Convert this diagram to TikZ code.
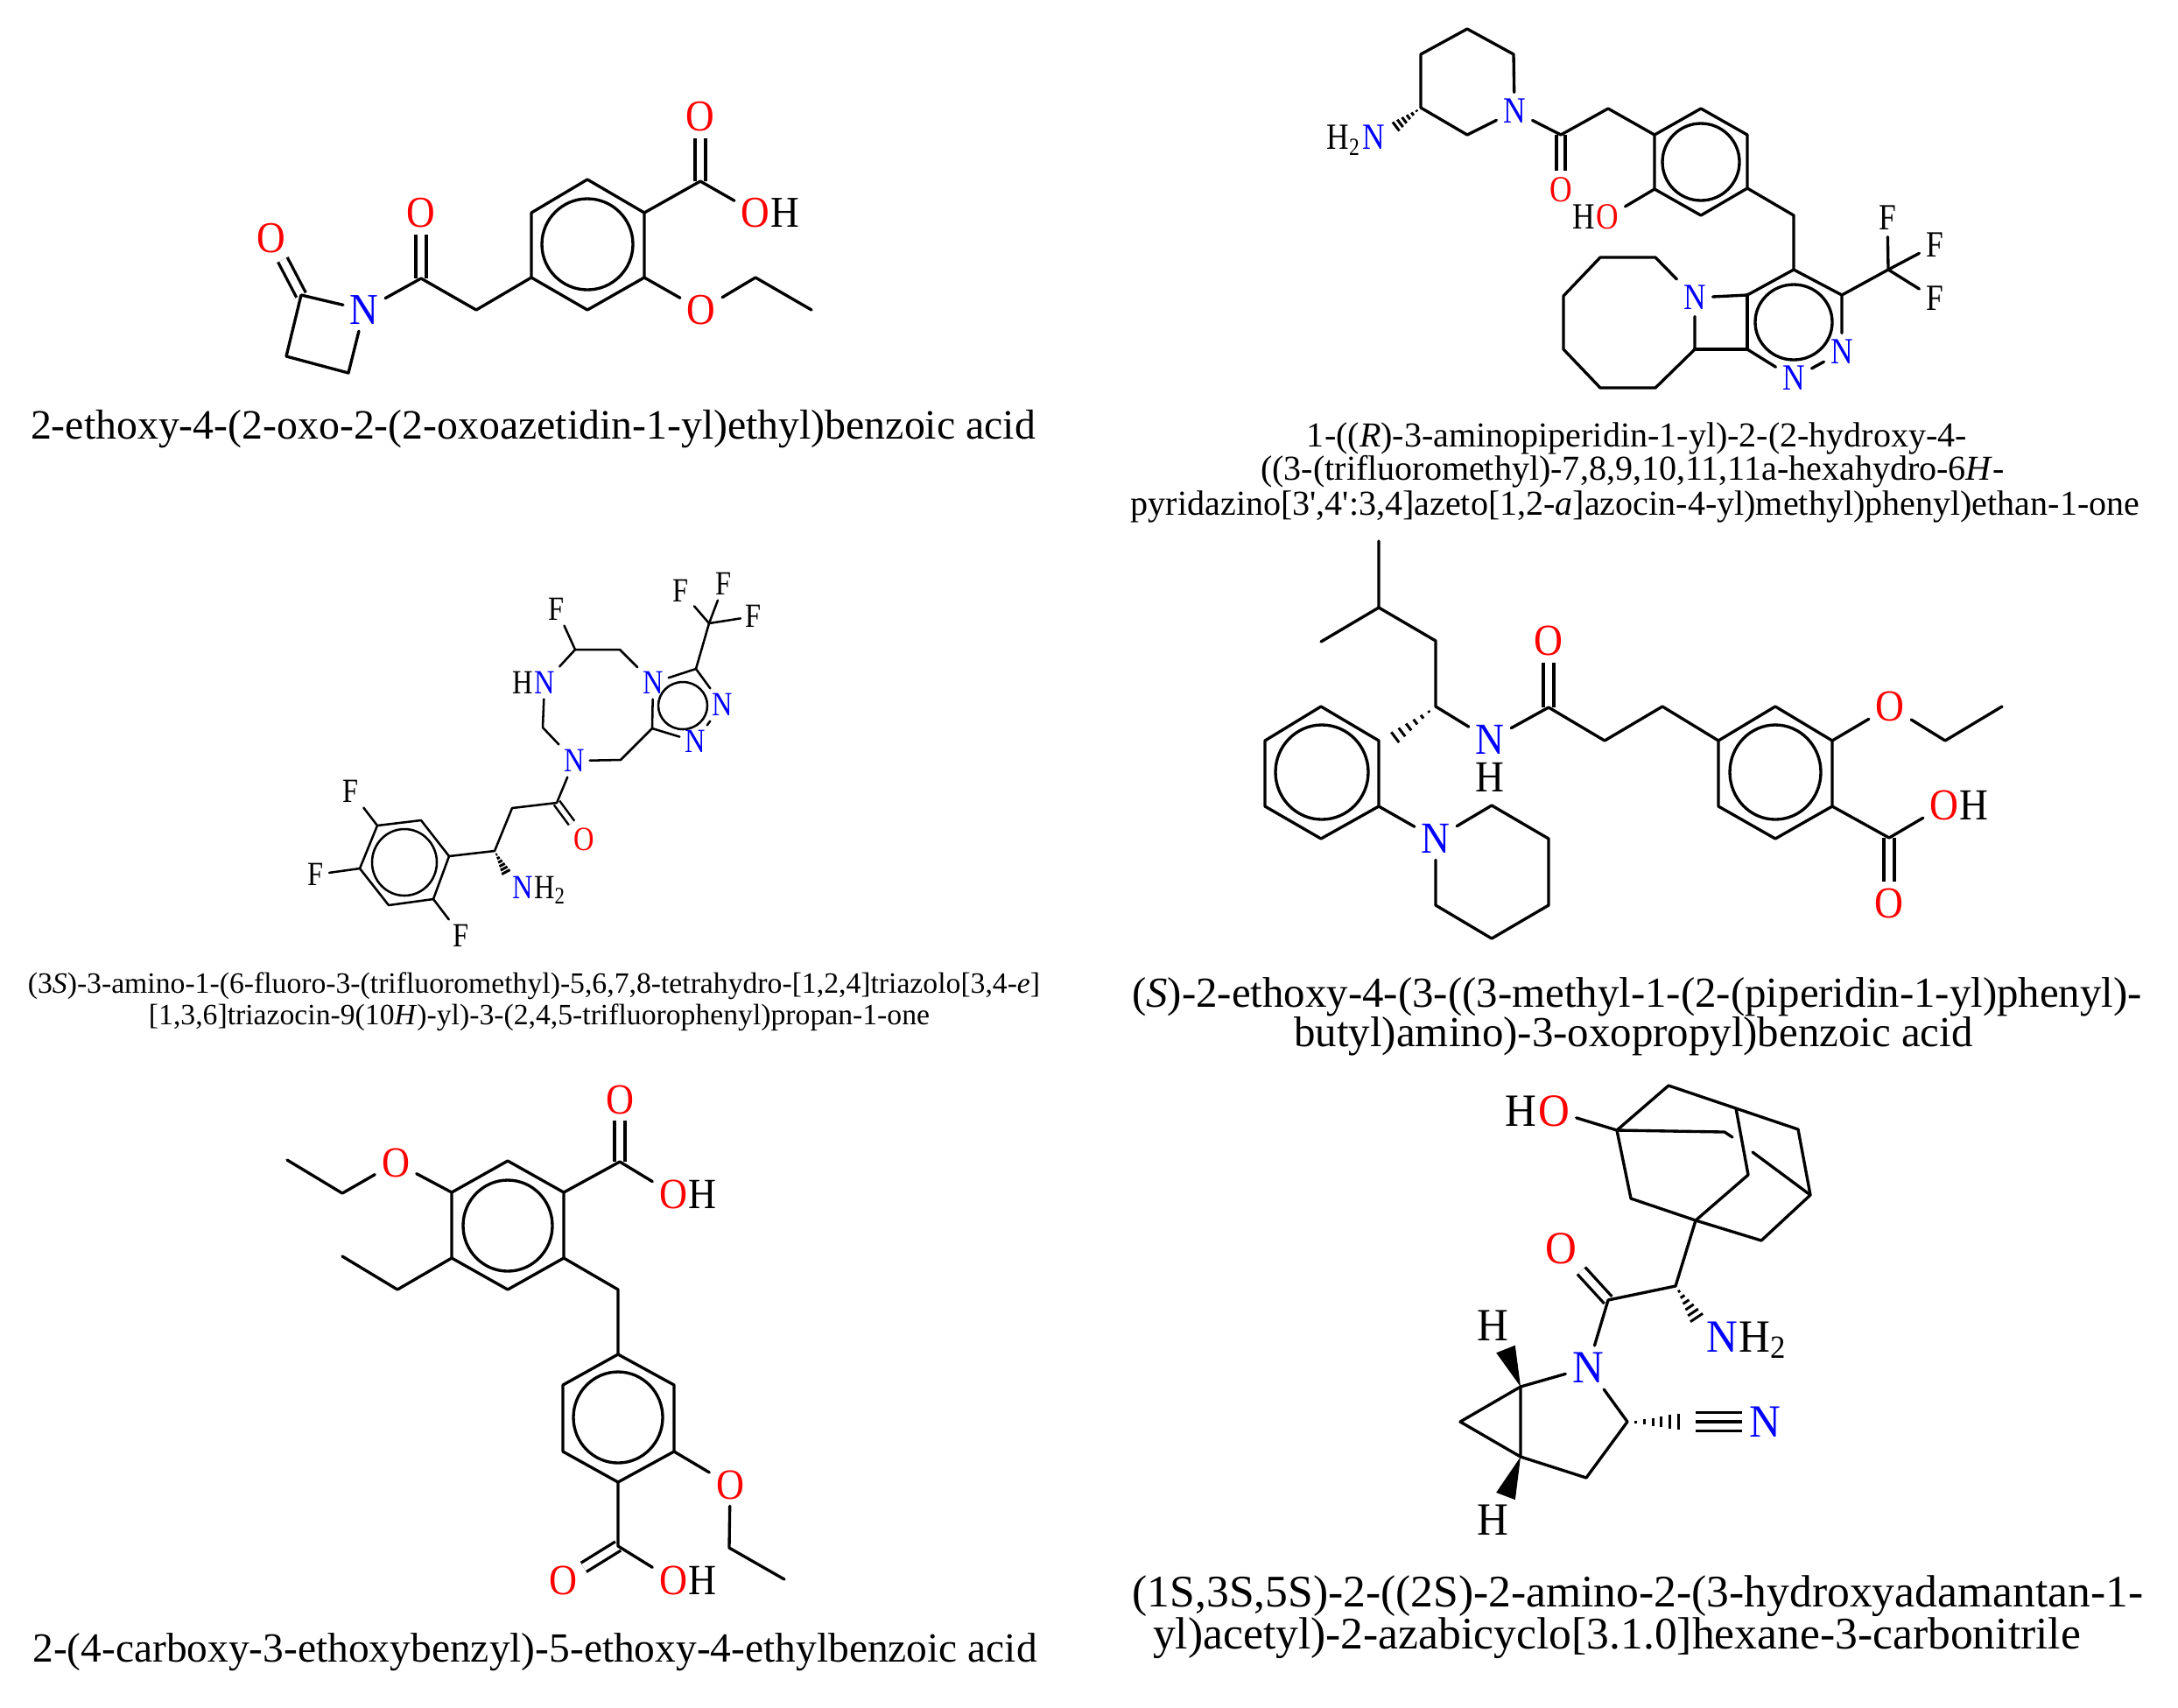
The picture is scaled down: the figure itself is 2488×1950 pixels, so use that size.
\documentclass[tikz,border=0pt]{standalone}
\usepackage{fontspec}
\usetikzlibrary{calc}
\setmainfont{Liberation Serif}
\newfontfamily\atomA[FakeStretch=0.90]{Liberation Serif}
\newfontfamily\atomB[FakeStretch=0.84]{Liberation Serif}
\newfontfamily\atomF[FakeStretch=0.94]{Liberation Serif}
\definecolor{oxred}{RGB}{255,0,0}
\definecolor{nitblue}{RGB}{0,0,255}
\tikzset{
  bond/.style={line width=0.95pt,line join=round,line cap=round},
  dbl/.style={line width=0.95pt,line cap=butt,double,double distance=2.4pt},
  ox/.style={text=oxred},
  nit/.style={text=nitblue},
  capline/.style={inner sep=0pt},
}
\newcommand{\hashbond}[3]{%
  \foreach \i [evaluate=\i as \t using \i/7, evaluate=\i as \w using \i*#3] in {1,...,7}
    \draw[line width=0.85pt] ($(#1)!\t!(#2)!\w pt!90:(#2)$) -- ($(#1)!\t!(#2)!\w pt!-90:(#2)$);}
\newcommand{\wedgebond}[3]{%
  \fill ($(#2)!#3!90:(#1)$) -- (#1) -- ($(#2)!#3!-90:(#1)$) -- cycle;}
\begin{document}
\begin{tikzpicture}[x=0.01cm,y=-0.01cm]
  \useasboundingbox (0,0) rectangle (2488,1950);

  \begin{scope}[every node/.style={inner sep=2pt,font=\atomA\fontsize{14.3}{17}\selectfont}]
    \coordinate (A1) at (671,205);
    \coordinate (A2) at (736,243);
    \coordinate (A3) at (736,317);
    \coordinate (A4) at (671,354);
    \coordinate (A5) at (607,317);
    \coordinate (A6) at (607,243);
    \coordinate (AR) at (671,279);
    \coordinate (A7) at (800,207);
    \coordinate (A11) at (863,317);
    \coordinate (A12) at (927,354);
    \coordinate (A13) at (544,354);
    \coordinate (A14) at (481,318);
    \coordinate (A17) at (344,337);
    \coordinate (A19) at (327,407);
    \coordinate (A20) at (398,426);
    \node[ox] (A8) at (800,133) {O};
    \node[ox] (A9) at (863,243) {O};
    \node[anchor=base west] (A9h) at ([xshift=-4pt]A9.base east) {H};
    \node[ox] (A10) at (801,354) {O};
    \node[ox] (A15) at (481,243) {O};
    \node[nit] (A16) at (416,354) {N};
    \node[ox] (A18) at (310,272) {O};

    \draw[dbl] (A7) -- (A8);
    \draw[dbl] (A14) -- (A15);
    \draw[dbl] (A17) -- (A18);
    \draw[bond] (A1) -- (A2) -- (A3) -- (A4) -- (A5) -- (A6) -- cycle;
    \draw[bond] (AR) ellipse [x radius=52,y radius=52];
    \draw[bond] (A2) -- (A7) -- (A9);
    \draw[bond] (A3) -- (A10) -- (A11) -- (A12);
    \draw[bond] (A5) -- (A13) -- (A14) -- (A16) -- (A17) -- (A19) -- (A20) -- (A16);
  \end{scope}
  \node[capline,font=\fontsize{13.59}{16}\selectfont] (A21) at (609,490) {2-ethoxy-4-(2-oxo-2-(2-oxoazetidin-1-yl)ethyl)benzoic acid};

  \begin{scope}[every node/.style={inner sep=2pt,font=\atomB\fontsize{12}{14}\selectfont}]
    \coordinate (B1) at (1676,33);
    \coordinate (B2) at (1729,62);
    \coordinate (B4) at (1676,154);
    \coordinate (B5) at (1623,123);
    \coordinate (B6) at (1623,62);
    \coordinate (B8) at (1590,148);
    \coordinate (B9) at (1783,154);
    \coordinate (B11) at (1837,124);
    \coordinate (B12) at (1890,154);
    \coordinate (B13) at (1943,124);
    \coordinate (B14) at (1996,154);
    \coordinate (B15) at (1996,215);
    \coordinate (B16) at (1943,246);
    \coordinate (B17) at (1890,216);
    \coordinate (BR) at (1943,185);
    \coordinate (B19) at (2049,246);
    \coordinate (B20) at (2049,308);
    \coordinate (B21) at (2104,337);
    \coordinate (B24) at (1996,399);
    \coordinate (B25) at (1996,337);
    \coordinate (BS) at (2049,368);
    \coordinate (B26) at (2157,308);
    \coordinate (B31) at (1936,399);
    \coordinate (B32) at (1891,294);
    \coordinate (B33) at (1828,294);
    \coordinate (B34) at (1786,338);
    \coordinate (B35) at (1786,399);
    \coordinate (B36) at (1828,443);
    \coordinate (B37) at (1891,443);
    \node[nit] (B3) at (1730,127) {N};
    \node[nit] (B7) at (1569,157) {N};
    \node[anchor=base east] (B7h) at ([xshift=4pt]B7.base west) {H\textsubscript{2}};
    \node[ox] (B10) at (1783,217) {O};
    \node[ox] (B18) at (1836,248) {O};
    \node[anchor=base east] (B18h) at ([xshift=4pt]B18.base west) {H};
    \node[nit] (B22) at (2104,402) {N};
    \node[nit] (B23) at (2049,432) {N};
    \node (B27) at (2156,249) {F};
    \node (B28) at (2210,280) {F};
    \node (B29) at (2210,341) {F};
    \node[nit] (B30) at (1936,340) {N};

    \draw[dbl,double distance=1.9pt] (B9) -- (B10);
    \draw[bond] (B1) -- (B2) -- (B3) -- (B4) -- (B5) -- (B6) -- (B1);
    \hashbond{B5}{B8}{0.3}
    \draw[bond] (B3) -- (B9) -- (B11) -- (B12);
    \draw[bond] (B12) -- (B13) -- (B14) -- (B15) -- (B16) -- (B17) -- cycle;
    \draw[bond] (BR) ellipse [x radius=44,y radius=44];
    \draw[bond] (B17) -- (B18);
    \draw[bond] (B15) -- (B19) -- (B20);
    \draw[bond] (B20) -- (B21) -- (B22) -- (B23) -- (B24);
    \draw[bond,line width=1.3pt] (B24) -- (B25);
    \draw[bond] (B25) -- (B20);
    \draw[bond] (BS) ellipse [x radius=44,y radius=43];
    \draw[bond] (B21) -- (B26) -- (B27);
    \draw[bond] (B26) -- (B28);
    \draw[bond] (B26) -- (B29);
    \draw[bond] (B25) -- (B30) -- (B31);
    \draw[bond,line width=1.3pt] (B31) -- (B24);
    \draw[bond] (B30) -- (B32) -- (B33) -- (B34) -- (B35) -- (B36) -- (B37) -- (B31);
  \end{scope}
  \node[capline,font=\fontsize{11.39}{13}\selectfont] (B38) at (1870,501) {1-((\textit{R})-3-aminopiperidin-1-yl)-2-(2-hydroxy-4-};
  \node[capline,font=\fontsize{11.39}{13}\selectfont] (B39) at (1865,539) {((3-(trifluoromethyl)-7,8,9,10,11,11a-hexahydro-6\textit{H}-};
  \node[capline,font=\fontsize{11.39}{13}\selectfont] (B40) at (1868,579) {pyridazino[3\textquotesingle,4\textquotesingle:3,4]azeto[1,2-\textit{a}]azocin-4-yl)methyl)phenyl)ethan-1-one};

  \begin{scope}[every node/.style={inner sep=1.5pt,font=\atomB\fontsize{11}{13}\selectfont},
      bond/.style={line width=0.72pt,line join=round,line cap=round}]
    \coordinate (C1) at (810,712);
    \coordinate (C5) at (795,764);
    \coordinate (C9) at (745,832);
    \coordinate (CR) at (780,806);
    \coordinate (C10) at (708,742);
    \coordinate (C11) at (657,742);
    \coordinate (C14) at (620,831);
    \coordinate (C16) at (709,868);
    \coordinate (C17) at (636,917);
    \coordinate (C19) at (585,923);
    \coordinate (C20) at (565,972);
    \coordinate (C22) at (580,1000);
    \coordinate (C23) at (513,978);
    \coordinate (C24) at (481,937);
    \coordinate (C25) at (431,943);
    \coordinate (C26) at (411,992);
    \coordinate (C27) at (444,1034);
    \coordinate (C28) at (495,1027);
    \coordinate (CS) at (462,985);
    \node (C2) at (778,675) {F};
    \node (C3) at (827,667) {F};
    \node (C4) at (861,704) {F};
    \node[nit] (C6) at (746,780) {N};
    \node[nit] (C7) at (825,805) {N};
    \node[nit] (C8) at (794,847) {N};
    \node (C12) at (636,696) {F};
    \node[nit] (C13) at (622,780) {N};
    \node[anchor=base east] (C13h) at ([xshift=3pt]C13.base west) {H};
    \node[nit] (C15) at (656,869) {N};
    \node[ox] (C18) at (667,959) {O};
    \node[nit] (C21) at (597,1014) {N};
    \node[anchor=base west] (C21h) at ([xshift=-3pt]C21.base east) {H\textsubscript{2}};
    \node (C29) at (401,904) {F};
    \node (C30) at (361,999) {F};
    \node (C31) at (527,1069) {F};

    \draw[dbl,line width=0.72pt,double distance=1.5pt] (C17) -- (C18);
    \draw[bond] (C1) -- (C2);
    \draw[bond] (C1) -- (C3);
    \draw[bond] (C1) -- (C4);
    \draw[bond] (C1) -- (C5) -- (C6) -- (C9) -- (C8) -- (C7) -- (C5);
    \draw[bond] (CR) ellipse [x radius=28,y radius=27];
    \draw[bond] (C6) -- (C10) -- (C11) -- (C12);
    \draw[bond] (C11) -- (C13) -- (C14) -- (C15) -- (C16) -- (C9);
    \draw[bond] (C15) -- (C17) -- (C19) -- (C20) -- (C23);
    \hashbond{C20}{C22}{0.25}
    \draw[bond] (C23) -- (C24) -- (C25) -- (C26) -- (C27) -- (C28) -- cycle;
    \draw[bond] (CS) ellipse [x radius=37,y radius=38];
    \draw[bond] (C25) -- (C29);
    \draw[bond] (C26) -- (C30);
    \draw[bond] (C28) -- (C31);
  \end{scope}
  \node[capline,font=\fontsize{9.58}{12}\selectfont] (C32) at (610,1126) {(3\textit{S})-3-amino-1-(6-fluoro-3-(trifluoromethyl)-5,6,7,8-tetrahydro-[1,2,4]triazolo[3,4-\textit{e}]};
  \node[capline,font=\fontsize{9.58}{12}\selectfont] (C33) at (616,1162) {[1,3,6]triazocin-9(10\textit{H})-yl)-3-(2,4,5-trifluorophenyl)propan-1-one};

  \begin{scope}[every node/.style={inner sep=2pt,font=\atomA\fontsize{14.4}{17}\selectfont}]
    \coordinate (D1) at (1575,618);
    \coordinate (D2) at (1575,694);
    \coordinate (D3) at (1509,733);
    \coordinate (D4) at (1640,732);
    \coordinate (D5) at (1640,807);
    \coordinate (D7) at (1769,808);
    \coordinate (D9) at (1833,846);
    \coordinate (D10) at (1899,807);
    \coordinate (D11) at (1963,846);
    \coordinate (D12) at (2028,807);
    \coordinate (D13) at (2093,846);
    \coordinate (D14) at (2093,921);
    \coordinate (D15) at (2028,958);
    \coordinate (D16) at (1963,921);
    \coordinate (DR) at (2028,882);
    \coordinate (D18) at (2222,846);
    \coordinate (D19) at (2287,807);
    \coordinate (D20) at (2158,957);
    \coordinate (D23) at (1509,807);
    \coordinate (D24) at (1575,846);
    \coordinate (D25) at (1575,921);
    \coordinate (D26) at (1509,958);
    \coordinate (D27) at (1445,921);
    \coordinate (D28) at (1445,846);
    \coordinate (DS) at (1510,882);
    \coordinate (D30) at (1704,920);
    \coordinate (D31) at (1769,958);
    \coordinate (D32) at (1769,1034);
    \coordinate (D33) at (1704,1072);
    \coordinate (D34) at (1640,1034);
    \coordinate (D35) at (1586,848);
    \node[nit] (D6) at (1702,845) {N};
    \node[inner sep=0pt] (D6h) at (1702,888) {H};
    \node[ox] (D8) at (1769,732) {O};
    \node[ox] (D17) at (2159,807) {O};
    \node[ox] (D21) at (2221,920) {O};
    \node[anchor=base west] (D21h) at ([xshift=-4pt]D21.base east) {H};
    \node[ox] (D22) at (2158,1032) {O};
    \node[nit] (D29) at (1640,958) {N};

    \draw[dbl] (D7) -- (D8);
    \draw[dbl] (D20) -- (D22);
    \draw[bond] (D1) -- (D2) -- (D3);
    \draw[bond] (D2) -- (D4) -- (D5) -- (D6) -- (D7) -- (D9) -- (D10) -- (D11);
    \draw[bond] (D11) -- (D12) -- (D13) -- (D14) -- (D15) -- (D16) -- cycle;
    \draw[bond] (DR) ellipse [x radius=52,y radius=54];
    \draw[bond] (D13) -- (D17) -- (D18) -- (D19);
    \draw[bond] (D14) -- (D20) -- (D21);
    \draw[bond] (D23) -- (D24) -- (D25) -- (D26) -- (D27) -- (D28) -- cycle;
    \draw[bond] (DS) ellipse [x radius=53,y radius=54];
    \hashbond{D5}{D35}{0.35}
    \draw[bond] (D25) -- (D29) -- (D30) -- (D31) -- (D32) -- (D33) -- (D34) -- (D29);
  \end{scope}
  \node[capline,font=\fontsize{13.9}{16}\selectfont] (D36) at (1870,1139) {(\textit{S})-2-ethoxy-4-(3-((3-methyl-1-(2-(piperidin-1-yl)phenyl)-};
  \node[capline,font=\fontsize{13.9}{16}\selectfont] (D37) at (1866,1184) {butyl)amino)-3-oxopropyl)benzoic acid};

  \begin{scope}[every node/.style={inner sep=2pt,font=\atomA\fontsize{14}{17}\selectfont}]
    \coordinate (E1) at (580,1326);
    \coordinate (E2) at (644,1362);
    \coordinate (E3) at (644,1437);
    \coordinate (E4) at (580,1473);
    \coordinate (E5) at (516,1437);
    \coordinate (E6) at (516,1362);
    \coordinate (ER) at (580,1400);
    \coordinate (E7) at (708,1327);
    \coordinate (E11) at (391,1363);
    \coordinate (E12) at (328,1325);
    \coordinate (E13) at (454,1473);
    \coordinate (E14) at (391,1435);
    \coordinate (E15) at (706,1473);
    \coordinate (E16) at (706,1547);
    \coordinate (E17) at (770,1582);
    \coordinate (E18) at (770,1658);
    \coordinate (E19) at (706,1693);
    \coordinate (E20) at (643,1658);
    \coordinate (E21) at (643,1582);
    \coordinate (ES) at (706,1619);
    \coordinate (E23) at (833,1768);
    \coordinate (E24) at (896,1804);
    \coordinate (E25) at (706,1766);
    \node[ox] (E8) at (708,1256) {O};
    \node[ox] (E9) at (769,1364) {O};
    \node[anchor=base west] (E9h) at ([xshift=-4pt]E9.base east) {H};
    \node[ox] (E10) at (452,1328) {O};
    \node[ox] (E22) at (834,1696) {O};
    \node[ox] (E26) at (643,1805) {O};
    \node[ox] (E27) at (769,1805) {O};
    \node[anchor=base west] (E27h) at ([xshift=-4pt]E27.base east) {H};

    \draw[dbl] (E7) -- (E8);
    \draw[dbl] (E25) -- (E26);
    \draw[bond] (E1) -- (E2) -- (E3) -- (E4) -- (E5) -- (E6) -- cycle;
    \draw[bond] (ER) ellipse [x radius=51,y radius=52];
    \draw[bond] (E2) -- (E7) -- (E9);
    \draw[bond] (E6) -- (E10) -- (E11) -- (E12);
    \draw[bond] (E5) -- (E13) -- (E14);
    \draw[bond] (E3) -- (E15) -- (E16);
    \draw[bond] (E16) -- (E17) -- (E18) -- (E19) -- (E20) -- (E21) -- cycle;
    \draw[bond] (ES) ellipse [x radius=51,y radius=52];
    \draw[bond] (E18) -- (E22) -- (E23) -- (E24);
    \draw[bond] (E19) -- (E25) -- (E27);
  \end{scope}
  \node[capline,font=\fontsize{13.49}{16}\selectfont] (E28) at (611,1887) {2-(4-carboxy-3-ethoxybenzyl)-5-ethoxy-4-ethylbenzoic acid};

  \begin{scope}[every node/.style={inner sep=2pt,font=\atomF\fontsize{15}{18}\selectfont}]
    \coordinate (F2) at (1847,1291);
    \coordinate (F3) at (1906,1240);
    \coordinate (F4) at (1983,1266);
    \coordinate (F5) at (2054,1290);
    \coordinate (F6) at (2068,1365);
    \coordinate (F7) at (2012,1417);
    \coordinate (F8) at (1937,1394);
    \coordinate (F9) at (1863,1369);
    \coordinate (F10) at (1997,1342);
    \coordinate (F11) at (1970,1293);
    \coordinate (F12) at (1979,1299);
    \coordinate (F13) at (2002,1316);
    \coordinate (F14) at (1914,1469);
    \coordinate (F15) at (1837,1485);
    \coordinate (F19) at (1942,1511);
    \coordinate (F20) at (1737,1584);
    \coordinate (F21) at (1737,1664);
    \coordinate (F22) at (1668,1624);
    \coordinate (F23) at (1812,1688);
    \coordinate (F24) at (1859,1624);
    \coordinate (F25) at (1927,1624);
    \coordinate (F26) at (1937,1624);
    \coordinate (F30) at (1720,1541);
    \coordinate (F31) at (1720,1709);
    \node[ox] (F1) at (1775,1269) {O};
    \node[anchor=base east] (F1h) at ([xshift=4pt]F1.base west) {H};
    \node[ox] (F16) at (1783,1426) {O};
    \node[nit] (F17) at (1814,1562) {N};
    \node[nit] (F18) at (1967,1527) {N};
    \node[anchor=base west] (F18h) at ([xshift=-4pt]F18.base east) {H\textsubscript{2}};
    \node[nit] (F27) at (2016,1624) {N};
    \node (F28) at (1705,1514) {H};
    \node (F29) at (1705,1736) {H};

    \draw[dbl] (F15) -- (F16);
    \draw[dbl,double distance=5.1pt] (F26) -- (F27);
    \draw[bond,line cap=butt] (F26) -- (F27);
    \draw[bond] (F1) -- (F2) -- (F3) -- (F4) -- (F5) -- (F6) -- (F7) -- (F8) -- (F9) -- (F2);
    \draw[bond] (F4) -- (F10) -- (F8);
    \draw[bond] (F2) -- (F11) -- (F12);
    \draw[bond] (F13) -- (F6);
    \draw[bond] (F8) -- (F14) -- (F15) -- (F17) -- (F20) -- (F22) -- (F21) -- (F20);
    \draw[bond] (F21) -- (F23) -- (F24) -- (F17);
    \hashbond{F14}{F19}{0.4}
    \hashbond{F24}{F25}{0.43}
    \wedgebond{F20}{F30}{3.3pt}
    \wedgebond{F21}{F31}{3.3pt}
  \end{scope}
  \node[capline,font=\fontsize{14.67}{17}\selectfont] (F32) at (1871,1823) {(1S,3S,5S)-2-((2S)-2-amino-2-(3-hydroxyadamantan-1-};
  \node[capline,font=\fontsize{14.67}{17}\selectfont] (F33) at (1847,1871) {yl)acetyl)-2-azabicyclo[3.1.0]hexane-3-carbonitrile};
\end{tikzpicture}
\end{document}
